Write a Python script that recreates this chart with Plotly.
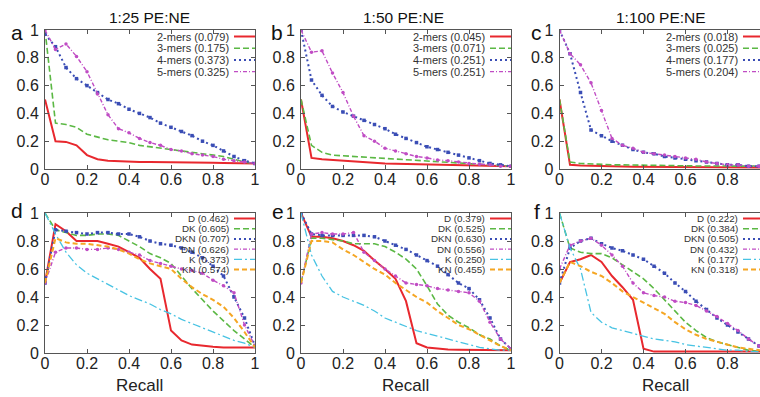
import plotly.graph_objects as go

# ---------------- data ----------------
recall = [0.0, 0.05, 0.1, 0.15, 0.2, 0.25, 0.3, 0.35, 0.4, 0.45, 0.5,
          0.55, 0.6, 0.65, 0.7, 0.75, 0.8, 0.85, 0.9, 0.95, 1.0]

titles = ["1:25 PE:NE", "1:50 PE:NE", "1:100 PE:NE"]
panel_letters = ["a", "b", "c", "d", "e", "f"]
x_label = "Recall"

# top row: k-mers
kmer_names = ["2-mers", "3-mers", "4-mers", "5-mers"]
a_ap = ["0.079", "0.175", "0.373", "0.325"]
b_ap = ["0.045", "0.071", "0.251", "0.251"]
c_ap = ["0.018", "0.025", "0.177", "0.204"]

a_2mers = [0.50, 0.20, 0.195, 0.17, 0.10, 0.07, 0.06, 0.055, 0.052, 0.05, 0.05, 0.05, 0.048, 0.047, 0.046, 0.045, 0.045, 0.044, 0.043, 0.042, 0.04]
a_3mers = [1.00, 0.33, 0.32, 0.30, 0.25, 0.23, 0.21, 0.20, 0.19, 0.17, 0.16, 0.15, 0.14, 0.13, 0.12, 0.11, 0.10, 0.09, 0.07, 0.05, 0.04]
a_4mers = [0.97, 0.88, 0.73, 0.65, 0.60, 0.55, 0.50, 0.47, 0.43, 0.40, 0.37, 0.33, 0.30, 0.27, 0.24, 0.20, 0.17, 0.13, 0.09, 0.06, 0.04]
a_5mers = [1.00, 0.86, 0.90, 0.81, 0.70, 0.54, 0.39, 0.29, 0.26, 0.22, 0.19, 0.17, 0.14, 0.13, 0.11, 0.10, 0.09, 0.07, 0.06, 0.05, 0.04]

b_2mers = [0.50, 0.08, 0.07, 0.065, 0.06, 0.05, 0.045, 0.042, 0.04, 0.038, 0.036, 0.035, 0.033, 0.032, 0.03, 0.028, 0.027, 0.025, 0.023, 0.022, 0.02]
b_3mers = [0.50, 0.17, 0.12, 0.10, 0.095, 0.09, 0.085, 0.08, 0.075, 0.07, 0.065, 0.06, 0.058, 0.055, 0.05, 0.045, 0.04, 0.035, 0.03, 0.025, 0.02]
b_4mers = [1.00, 0.64, 0.53, 0.45, 0.41, 0.38, 0.35, 0.32, 0.29, 0.25, 0.22, 0.19, 0.16, 0.14, 0.12, 0.10, 0.08, 0.06, 0.04, 0.03, 0.02]
b_5mers = [1.00, 0.84, 0.85, 0.69, 0.55, 0.38, 0.24, 0.20, 0.15, 0.13, 0.11, 0.09, 0.08, 0.065, 0.06, 0.05, 0.04, 0.035, 0.03, 0.02, 0.02]

c_2mers = [0.50, 0.03, 0.025, 0.022, 0.02, 0.02, 0.018, 0.017, 0.016, 0.015, 0.015, 0.014, 0.013, 0.013, 0.012, 0.012, 0.011, 0.011, 0.01, 0.01, 0.01]
c_3mers = [0.50, 0.05, 0.04, 0.035, 0.033, 0.03, 0.03, 0.028, 0.027, 0.026, 0.025, 0.024, 0.023, 0.022, 0.021, 0.02, 0.02, 0.02, 0.02, 0.02, 0.02]
c_4mers = [1.00, 0.83, 0.55, 0.28, 0.24, 0.20, 0.17, 0.14, 0.12, 0.11, 0.09, 0.08, 0.07, 0.06, 0.05, 0.04, 0.03, 0.03, 0.02, 0.02, 0.02]
c_5mers = [1.00, 0.83, 0.75, 0.62, 0.42, 0.22, 0.17, 0.15, 0.12, 0.11, 0.10, 0.09, 0.08, 0.07, 0.05, 0.04, 0.03, 0.03, 0.02, 0.02, 0.02]

# bottom row: feature combinations
feat_names = ["D", "DK", "DKN", "DN", "K", "KN"]
d_ap = ["0.462", "0.605", "0.707", "0.626", "0.373", "0.574"]
e_ap = ["0.379", "0.525", "0.630", "0.556", "0.250", "0.455"]
f_ap = ["0.222", "0.384", "0.505", "0.432", "0.177", "0.318"]

d_D   = [0.50, 0.92, 0.87, 0.80, 0.80, 0.80, 0.78, 0.76, 0.72, 0.68, 0.60, 0.53, 0.16, 0.09, 0.06, 0.05, 0.045, 0.04, 0.04, 0.04, 0.04]
d_DK  = [1.00, 0.88, 0.86, 0.84, 0.84, 0.85, 0.85, 0.84, 0.80, 0.76, 0.71, 0.68, 0.64, 0.55, 0.46, 0.38, 0.30, 0.23, 0.16, 0.10, 0.04]
d_DKN = [0.50, 0.88, 0.87, 0.86, 0.85, 0.86, 0.86, 0.85, 0.85, 0.83, 0.80, 0.78, 0.77, 0.75, 0.72, 0.68, 0.62, 0.55, 0.40, 0.25, 0.05]
d_DN  = [0.50, 0.72, 0.75, 0.75, 0.74, 0.74, 0.75, 0.74, 0.72, 0.70, 0.66, 0.64, 0.62, 0.60, 0.59, 0.57, 0.52, 0.48, 0.43, 0.20, 0.05]
d_K   = [1.00, 0.85, 0.72, 0.63, 0.57, 0.53, 0.49, 0.45, 0.41, 0.38, 0.35, 0.31, 0.28, 0.24, 0.21, 0.18, 0.15, 0.12, 0.09, 0.07, 0.04]
d_KN  = [0.50, 0.82, 0.79, 0.78, 0.78, 0.77, 0.76, 0.74, 0.71, 0.67, 0.64, 0.62, 0.60, 0.53, 0.47, 0.42, 0.38, 0.33, 0.25, 0.15, 0.04]

e_D   = [1.00, 0.83, 0.83, 0.82, 0.80, 0.77, 0.73, 0.66, 0.60, 0.53, 0.37, 0.07, 0.04, 0.03, 0.025, 0.024, 0.023, 0.022, 0.021, 0.02, 0.02]
e_DK  = [0.50, 0.82, 0.82, 0.81, 0.80, 0.78, 0.78, 0.78, 0.76, 0.72, 0.67, 0.60, 0.48, 0.35, 0.27, 0.22, 0.18, 0.13, 0.10, 0.05, 0.02]
e_DKN = [1.00, 0.85, 0.84, 0.84, 0.84, 0.84, 0.84, 0.83, 0.80, 0.77, 0.74, 0.70, 0.66, 0.62, 0.56, 0.50, 0.46, 0.38, 0.25, 0.10, 0.03]
e_DN  = [0.50, 0.85, 0.86, 0.85, 0.85, 0.86, 0.72, 0.66, 0.60, 0.55, 0.50, 0.49, 0.48, 0.46, 0.45, 0.44, 0.43, 0.37, 0.22, 0.10, 0.03]
e_K   = [1.00, 0.70, 0.55, 0.44, 0.40, 0.37, 0.34, 0.30, 0.25, 0.22, 0.19, 0.16, 0.14, 0.12, 0.10, 0.08, 0.06, 0.04, 0.03, 0.02, 0.02]
e_KN  = [0.50, 0.80, 0.80, 0.79, 0.74, 0.70, 0.65, 0.60, 0.56, 0.50, 0.45, 0.40, 0.36, 0.30, 0.25, 0.20, 0.17, 0.13, 0.09, 0.05, 0.02]

f_D   = [0.50, 0.65, 0.67, 0.70, 0.65, 0.55, 0.47, 0.38, 0.03, 0.01, 0.01, 0.01, 0.01, 0.01, 0.01, 0.01, 0.01, 0.01, 0.01, 0.01, 0.01]
f_DK  = [1.00, 0.75, 0.72, 0.71, 0.71, 0.68, 0.63, 0.58, 0.53, 0.46, 0.38, 0.30, 0.22, 0.16, 0.11, 0.08, 0.06, 0.04, 0.02, 0.01, 0.01]
f_DKN = [0.50, 0.75, 0.80, 0.82, 0.78, 0.75, 0.73, 0.70, 0.67, 0.62, 0.57, 0.50, 0.44, 0.37, 0.31, 0.25, 0.20, 0.15, 0.10, 0.05, 0.02]
f_DN  = [0.60, 0.77, 0.80, 0.82, 0.77, 0.70, 0.62, 0.50, 0.43, 0.41, 0.40, 0.37, 0.36, 0.34, 0.30, 0.26, 0.21, 0.16, 0.10, 0.05, 0.02]
f_K   = [1.00, 0.75, 0.60, 0.29, 0.22, 0.18, 0.16, 0.14, 0.12, 0.10, 0.09, 0.08, 0.06, 0.05, 0.04, 0.03, 0.02, 0.02, 0.01, 0.01, 0.01]
f_KN  = [0.50, 0.65, 0.62, 0.58, 0.55, 0.50, 0.44, 0.40, 0.36, 0.32, 0.28, 0.22, 0.17, 0.13, 0.10, 0.08, 0.06, 0.04, 0.03, 0.02, 0.01]

# ---------------- styles ----------------
W, H = 760, 397
FONT = "Liberation Sans, Arial, sans-serif"

styles = [
    dict(color="#e8282e", dash="solid", width=2.0, marker=None),
    dict(color="#5bb844", dash="6px,3px", width=1.6, marker=None),
    dict(color="#3a4db5", dash="2px,3px", width=2.0, marker="square"),
    dict(color="#c04cc4", dash="4px,2px,1px,2px", width=1.4, marker="circle"),
    dict(color="#48c3e3", dash="8px,3px,2px,3px", width=1.3, marker=None),
    dict(color="#f5a623", dash="5px,3px", width=2.0, marker=None),
]

panels = [
    dict(names=kmer_names, aps=a_ap, ys=[a_2mers, a_3mers, a_4mers, a_5mers]),
    dict(names=kmer_names, aps=b_ap, ys=[b_2mers, b_3mers, b_4mers, b_5mers]),
    dict(names=kmer_names, aps=c_ap, ys=[c_2mers, c_3mers, c_4mers, c_5mers]),
    dict(names=feat_names, aps=d_ap, ys=[d_D, d_DK, d_DKN, d_DN, d_K, d_KN]),
    dict(names=feat_names, aps=e_ap, ys=[e_D, e_DK, e_DKN, e_DN, e_K, e_KN]),
    dict(names=feat_names, aps=f_ap, ys=[f_D, f_DK, f_DKN, f_DN, f_K, f_KN]),
]

# pixel layout of the plot boxes
col_x0 = [45, 301, 559.5]
box_w = 210
row_y = [(30, 169), (213, 353)]
legend_right = [231, 487, 740]
legend_top = [36.5, 218.5]
legend_step = [11.7, 10.2]
legend_font = [11, 9.8]
letter_pos = [(17, 33), (277, 33), (536, 33), (17, 210), (278, 212), (537, 212)]
title_x = [149, 403, 661]
recall_x = [139, 405, 665]


def px(x):
    return x / W


def py(y):
    return 1 - y / H


fig = go.Figure()
shapes = []
annotations = []

for i, p in enumerate(panels):
    row, col = divmod(i, 3)
    k = i + 1
    xname = "x" if k == 1 else f"x{k}"
    yname = "y" if k == 1 else f"y{k}"
    x0 = col_x0[col]
    x1 = min(x0 + box_w, W)
    xmax = (x1 - x0) / box_w
    ytop, ybot = row_y[row]

    for j, (nm, ys) in enumerate(zip(p["names"], p["ys"])):
        st = styles[j]
        tr = dict(
            x=recall, y=ys, xaxis=xname, yaxis=yname, showlegend=False,
            name=nm,
            line=dict(color=st["color"], dash=st["dash"], width=st["width"]),
            mode="lines+markers" if st["marker"] else "lines",
            hoverinfo="skip",
        )
        if st["marker"]:
            tr["marker"] = dict(symbol=st["marker"], size=3.5, color=st["color"])
        fig.add_trace(go.Scatter(**tr))

        # legend entry (text on the left, line sample on the right)
        ly = legend_top[row] + j * legend_step[row]
        annotations.append(dict(
            x=px(legend_right[col]), y=py(ly), xref="paper", yref="paper",
            xanchor="right", yanchor="middle", showarrow=False,
            text=f"{nm} ({p['aps'][j]})",
            font=dict(family=FONT, size=legend_font[row], color="#333333"),
        ))
        shapes.append(dict(
            type="line", xref="paper", yref="paper",
            x0=px(legend_right[col] + 3), x1=px(min(legend_right[col] + 24, W)),
            y0=py(ly), y1=py(ly),
            line=dict(color=st["color"], dash=st["dash"], width=st["width"]),
        ))

    axis_common = dict(
        showgrid=False, zeroline=False, showline=True, linecolor="#555555",
        linewidth=1, ticks="inside", ticklen=4, tickcolor="#555555",
        tickfont=dict(family=FONT, size=16, color="#222222"),
        automargin=False,
    )
    xa = dict(axis_common, domain=[px(x0), px(x1)], range=[0, xmax],
              tick0=0, dtick=0.2, anchor=yname, mirror="ticks",
              ticklabelstandoff=-4)
    ya = dict(axis_common, domain=[py(ybot), py(ytop)], range=[0, 1],
              tick0=0, dtick=0.2, anchor=xname,
              mirror="ticks" if x1 < W else False,
              ticklabelstandoff=2)
    fig.layout["xaxis" if k == 1 else f"xaxis{k}"] = xa
    fig.layout["yaxis" if k == 1 else f"yaxis{k}"] = ya

    lx, lyy = letter_pos[i]
    annotations.append(dict(
        x=px(lx), y=py(lyy), xref="paper", yref="paper", xanchor="center",
        yanchor="middle", showarrow=False, text=panel_letters[i],
        font=dict(family=FONT, size=21, color="#111111"),
    ))

for c in range(3):
    annotations.append(dict(
        x=px(title_x[c]), y=py(18), xref="paper", yref="paper",
        xanchor="center", yanchor="middle", showarrow=False, text=titles[c],
        font=dict(family=FONT, size=15.5, color="#111111"),
    ))
    annotations.append(dict(
        x=px(recall_x[c]), y=py(385), xref="paper", yref="paper",
        xanchor="center", yanchor="middle", showarrow=False, text=x_label,
        font=dict(family=FONT, size=17, color="#222222"),
    ))

fig.update_layout(
    width=W, height=H, margin=dict(l=0, r=0, t=0, b=0, pad=0),
    paper_bgcolor="white", plot_bgcolor="white",
    shapes=shapes, annotations=annotations, showlegend=False,
)

fig.write_html(
    "out.html",
    config={"displayModeBar": False, "staticPlot": True},
    post_script="document.body.style.margin='0';document.body.style.overflow='hidden';"
                "document.documentElement.style.overflow='hidden';",
)
